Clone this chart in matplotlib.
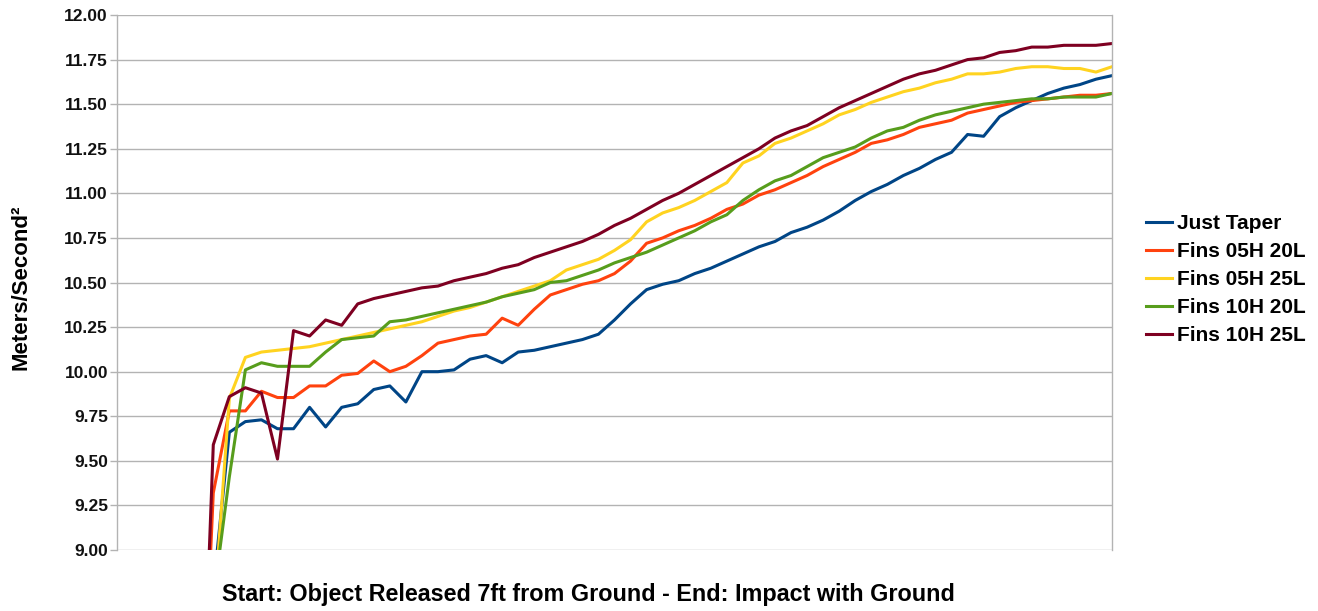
import numpy as np
from matplotlib import pyplot as plt

# samples 5..62 of the run (earlier samples are far below the axis)
first_sample = 5
last_sample = 62

just_taper = [7.90, 8.78, 9.66, 9.72, 9.73, 9.68, 9.68, 9.80, 9.69, 9.80,
              9.82, 9.90, 9.92, 9.83, 10.00, 10.00, 10.01, 10.07, 10.09, 10.05,
              10.11, 10.12, 10.14, 10.16, 10.18, 10.21, 10.29, 10.38, 10.46, 10.49,
              10.51, 10.55, 10.58, 10.62, 10.66, 10.70, 10.73, 10.78, 10.81, 10.85,
              10.90, 10.96, 11.01, 11.05, 11.10, 11.14, 11.19, 11.23, 11.33, 11.32,
              11.43, 11.48, 11.52, 11.56, 11.59, 11.61, 11.64, 11.66]

fins_05h_20l = [7.30, 9.32, 9.78, 9.78, 9.89, 9.855, 9.855, 9.92, 9.92, 9.98,
                9.99, 10.06, 10.00, 10.03, 10.09, 10.16, 10.18, 10.20, 10.21, 10.30,
                10.26, 10.35, 10.43, 10.46, 10.49, 10.51, 10.55, 10.62, 10.72, 10.75,
                10.79, 10.82, 10.86, 10.91, 10.94, 10.99, 11.02, 11.06, 11.10, 11.15,
                11.19, 11.23, 11.28, 11.30, 11.33, 11.37, 11.39, 11.41, 11.45, 11.47,
                11.49, 11.51, 11.52, 11.53, 11.54, 11.55, 11.55, 11.56]

fins_05h_25l = [7.50, 8.60, 9.85, 10.08, 10.11, 10.12, 10.13, 10.14, 10.16, 10.18,
                10.20, 10.22, 10.24, 10.26, 10.28, 10.31, 10.34, 10.36, 10.39, 10.42,
                10.45, 10.48, 10.51, 10.57, 10.60, 10.63, 10.68, 10.74, 10.84, 10.89,
                10.92, 10.96, 11.01, 11.06, 11.17, 11.21, 11.28, 11.31, 11.35, 11.39,
                11.44, 11.47, 11.51, 11.54, 11.57, 11.59, 11.62, 11.64, 11.67, 11.67,
                11.68, 11.70, 11.71, 11.71, 11.70, 11.70, 11.68, 11.71]

fins_10h_20l = [7.60, 8.72, 9.41, 10.01, 10.05, 10.03, 10.03, 10.03, 10.11, 10.18,
                10.19, 10.20, 10.28, 10.29, 10.31, 10.33, 10.35, 10.37, 10.39, 10.42,
                10.44, 10.46, 10.50, 10.51, 10.54, 10.57, 10.61, 10.64, 10.67, 10.71,
                10.75, 10.79, 10.84, 10.88, 10.96, 11.02, 11.07, 11.10, 11.15, 11.20,
                11.23, 11.26, 11.31, 11.35, 11.37, 11.41, 11.44, 11.46, 11.48, 11.50,
                11.51, 11.52, 11.53, 11.53, 11.54, 11.54, 11.54, 11.56]

fins_10h_25l = [7.20, 9.59, 9.86, 9.91, 9.88, 9.51, 10.23, 10.20, 10.29, 10.26,
                10.38, 10.41, 10.43, 10.45, 10.47, 10.48, 10.51, 10.53, 10.55, 10.58,
                10.60, 10.64, 10.67, 10.70, 10.73, 10.77, 10.82, 10.86, 10.91, 10.96,
                11.00, 11.05, 11.10, 11.15, 11.20, 11.25, 11.31, 11.35, 11.38, 11.43,
                11.48, 11.52, 11.56, 11.60, 11.64, 11.67, 11.69, 11.72, 11.75, 11.76,
                11.79, 11.80, 11.82, 11.82, 11.83, 11.83, 11.83, 11.84]

labels = ['Just Taper', 'Fins 05H 20L', 'Fins 05H 25L', 'Fins 10H 20L', 'Fins 10H 25L']
colors = ['#004586', '#ff420e', '#ffd320', '#579d1c', '#7e0021']
yticks = np.arange(9.0, 12.01, 0.25)

plt.rcParams['font.family'] = ['Liberation Sans', 'DejaVu Sans']
plt.rcParams['font.weight'] = 'bold'

fig = plt.figure(figsize=(13.18, 6.11), dpi=100)
ax = fig.add_axes([117/1318, 1 - 550/611, (1112 - 117)/1318, (550 - 15)/611])

x = np.arange(first_sample, last_sample + 1)
series = [just_taper, fins_05h_20l, fins_05h_25l, fins_10h_20l, fins_10h_25l]
for vals, name, c in zip(series, labels, colors):
    ax.plot(x, vals, color=c, lw=2.2, label=name, solid_joinstyle='round')

ax.set_xlim(0, last_sample)
ax.set_ylim(9.0, 12.0)
ax.set_yticks(yticks)
ax.set_yticklabels(['%.2f' % v for v in yticks], fontsize=12.5, fontweight='bold')
ax.set_xticks([])
ax.yaxis.grid(True, color='#b3b3b3', lw=1)
ax.set_axisbelow(True)
ax.tick_params(axis='y', length=5, width=1, color='#b3b3b3', pad=1.5, labelcolor='#111111')
for s in ['top', 'bottom']:
    ax.spines[s].set_visible(False)
for s in ['left', 'right']:
    ax.spines[s].set_color('#b3b3b3')
    ax.spines[s].set_linewidth(1)

fig.text(21/1318, 1 - 287/611, 'Meters/Second²', rotation=90, ha='center', va='center',
         fontsize=16, fontweight='bold')
fig.text(588/1318, 1 - 595/611, 'Start: Object Released 7ft from Ground - End: Impact with Ground',
         ha='center', va='center', fontsize=16.8, fontweight='bold')

leg = ax.legend(loc='center left', bbox_to_anchor=(1.0258, 0.5055), frameon=False,
                prop={'size': 15, 'weight': 'bold'}, handlelength=1.25,
                handletextpad=0.25, labelspacing=0.43, borderaxespad=0)

fig.savefig('out.png', dpi=100)
